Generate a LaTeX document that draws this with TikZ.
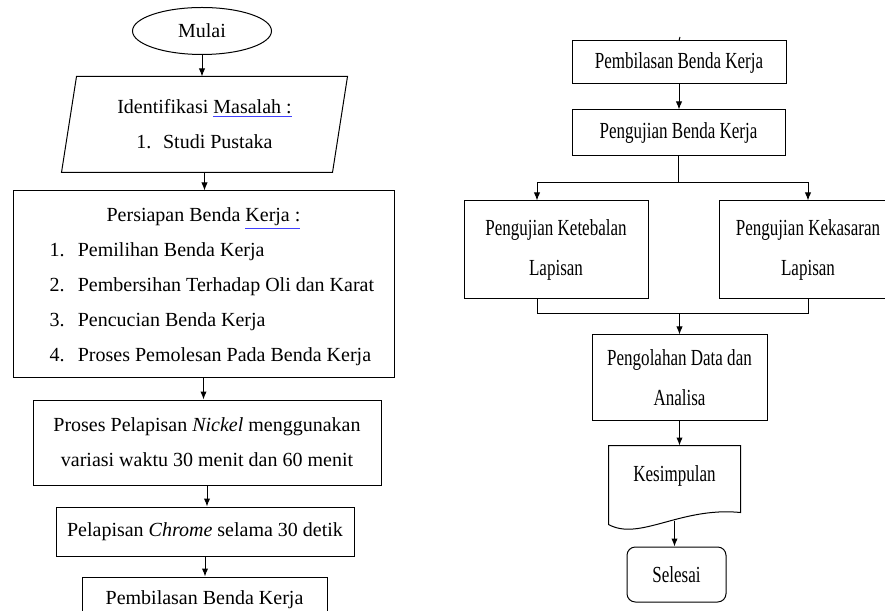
\documentclass[tikz,border=0pt]{standalone}
\usepackage{fontspec}
\setmainfont{Liberation Serif}
\newfontfamily\narrowserif[FakeStretch=0.74]{Liberation Serif}
\usetikzlibrary{shapes.geometric,calc,arrows.meta}

\newcommand\spellline[1]{{\color{blue!75}\underline{\textcolor{black}{#1}}}}

\begin{document}
\begin{tikzpicture}[
    x=0.6pt, y=-0.6pt,
    line width=0.6pt,
    box/.style={draw, inner sep=0pt, align=center, font=\fontsize{12}{21}\selectfont},
    rbox/.style={box, font=\narrowserif\fontsize{13.8}{24}\selectfont},
    flow/.style={draw, -{Latex[length=4.8pt,width=3.8pt]}}
    ]
    \useasboundingbox (0,0) rectangle (885,611);
    \clip (0,0) rectangle (885,611);

    \node[box, ellipse, minimum width=83.4pt, minimum height=28.2pt] (mulai) at (202,31) {Mulai};
    \node[box, draw=none, minimum width=162pt, minimum height=57pt] (identifikasi) at (204.5,124.5)
      {Identifikasi \spellline{Masalah :}\\ \makebox[16pt][l]{1.}Studi Pustaka};
    \draw ($(identifikasi.north west)+(7.5,0)$) -- ($(identifikasi.north east)+(7.5,0)$)
      -- ($(identifikasi.south east)+(-7.5,0)$) -- ($(identifikasi.south west)+(-7.5,0)$) -- cycle;
    \node[box, minimum width=228.6pt, minimum height=112.2pt] (persiapan) at (203.5,284.5)
      {\begin{tabular}{@{\hspace{10pt}}l@{\hspace{8pt}}l@{}}
        \multicolumn{2}{c}{Persiapan Benda \spellline{Kerja :}}\\
        1. & Pemilihan Benda Kerja\\
        2. & Pembersihan Terhadap Oli dan Karat\\
        3. & Pencucian Benda Kerja\\
        4. & Proses Pemolesan Pada Benda Kerja
       \end{tabular}};
    \node[box, minimum width=208.8pt, minimum height=51pt] (nickel) at (207,442.5)
      {Proses Pelapisan \textit{Nickel} menggunakan\\variasi waktu 30 menit dan 60 menit};
    \node[box, minimum width=178.8pt, minimum height=29.4pt] (chrome) at (205,531.5)
      {Pelapisan \textit{Chrome} selama 30 detik};
    \node[box, minimum width=147pt, minimum height=27.6pt] (bilasA) at (204.5,600) {Pembilasan Benda Kerja};

    \foreach \a/\b in {mulai/identifikasi, identifikasi/persiapan, persiapan/nickel, nickel/chrome, chrome/bilasA}
      \draw[flow] (\a.south) -- (\a.south |- \b.north);

    % kolom kanan
    \coordinate (atas) at (680,37);
    \node[rbox, minimum width=128.4pt, minimum height=25.8pt] (bilasB) at (679,62.5) {Pembilasan Benda Kerja};
    \node[rbox, minimum width=127.8pt, minimum height=27.6pt] (uji) at (678.5,133) {Pengujian Benda Kerja};
    \node[rbox, minimum width=110.4pt, minimum height=58.8pt] (tebal) at (556,250) {Pengujian Ketebalan\\Lapisan};
    \node[rbox, minimum width=106.8pt, minimum height=58.8pt] (kasar) at (808,250) {Pengujian Kekasaran\\Lapisan};
    \node[rbox, minimum width=105pt, minimum height=51.6pt] (olah) at (679.5,378) {Pengolahan Data dan\\Analisa};
    \node[rbox, draw=none, minimum width=78.6pt, minimum height=36pt] (simpul) at (674.5,476) {Kesimpulan};
    \draw (simpul.north west) -- ($(simpul.south west)+(0,18)$)
      .. controls ($(simpul.south west)+(31,35)$) and ($(simpul.south east)+(-60,0)$) .. ($(simpul.south east)+(0,6)$)
      -- (simpul.north east) -- cycle;
    \node[rbox, rounded corners=5pt, minimum width=59.4pt, minimum height=33pt] (selesai) at (676.5,574.5) {Selesai};

    \draw (atas) -- (bilasB.north);
    \draw[flow] (bilasB.south) -- (bilasB.south |- uji.north);
    \coordinate (cabang) at ($(uji.south)+(0,26)$);
    \draw (uji.south) -- (cabang);
    \draw[flow] (cabang) -| ($(tebal.north)+(-19,0)$);
    \draw[flow] (cabang) -| (kasar.north);
    \draw ($(tebal.south)+(-19,0)$) -- ++(0,14) coordinate (gabung) -| (kasar.south);
    \draw[flow] (gabung -| olah.north) -- (olah.north);
    \draw[flow] (olah.south) -- (olah.south |- simpul.north);
    \draw[flow] ($(simpul.south)+(0,14)$) coordinate (simpulout) -- (simpulout |- selesai.north);
\end{tikzpicture}
\end{document}
